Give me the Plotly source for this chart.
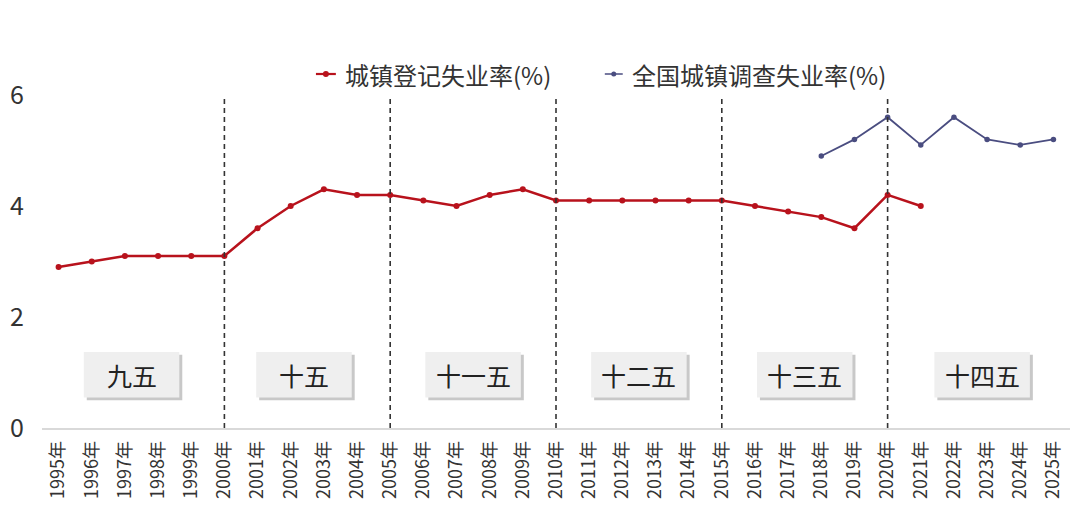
import plotly.graph_objects as go

years = [f"{y}年" for y in range(1995, 2026)]
registered = [2.9, 3.0, 3.1, 3.1, 3.1, 3.1, 3.6, 4.0, 4.3, 4.2, 4.2, 4.1, 4.0, 4.2, 4.3,
              4.1, 4.1, 4.1, 4.1, 4.1, 4.1, 4.0, 3.9, 3.8, 3.6, 4.2, 4.0]
survey_years = [f"{y}年" for y in range(2018, 2026)]
survey = [4.9, 5.2, 5.6, 5.1, 5.6, 5.2, 5.1, 5.2]
series_names = ["城镇登记失业率(%)", "全国城镇调查失业率(%)"]
plan_labels = ["九五", "十五", "十一五", "十二五", "十三五", "十四五"]
plan_starts = [1995, 2000, 2005, 2010, 2015, 2020]
y_ticks = [0, 2, 4, 6]

FONT = "Noto Sans CJK SC"
RED = "#b8121c"
BLUE = "#4a4d80"
W, H = 1080, 515
ML, MR, MT, MB = 38, 10, 95, 87
PW, PH = W - ML - MR, H - MT - MB


def px_to_paper_x(px):
    return (px - ML) / PW


def py_to_paper_y(py):
    return (H - MB - py) / PH


fig = go.Figure()
fig.add_trace(go.Scatter(
    x=years[:len(registered)], y=registered, mode="lines+markers",
    name=series_names[0],
    line=dict(color=RED, width=2.5), marker=dict(color=RED, size=6)))
fig.add_trace(go.Scatter(
    x=survey_years, y=survey, mode="lines+markers",
    name=series_names[1],
    line=dict(color=BLUE, width=1.8), marker=dict(color=BLUE, size=5.5)))

shapes = []
annotations = []
first = 1995
# dashed separators at plan boundaries
for s in plan_starts[1:]:
    xi = s - first
    shapes.append(dict(type="line", xref="x", yref="y", x0=xi, x1=xi, y0=0, y1=5.93,
                       line=dict(color="#333333", width=1.6, dash="5px,4px"), layer="above"))

# plan label boxes
offsets = [2.2, 2.4, 2.5, 2.5, 2.5, 2.85]
half_w = 1.44
for lab, s, off in zip(plan_labels, plan_starts, offsets):
    cx = s - first + off
    shapes.append(dict(type="rect", xref="x", yref="y",
                       x0=cx - half_w + 0.09, x1=cx + half_w + 0.09, y0=0.50, y1=1.32,
                       fillcolor="#9a9a9a", line=dict(width=0), layer="below", opacity=0.55))
    shapes.append(dict(type="rect", xref="x", yref="y",
                       x0=cx - half_w, x1=cx + half_w, y0=0.55, y1=1.37,
                       fillcolor="#efefef", line=dict(width=0), layer="below"))
    annotations.append(dict(x=cx, y=0.96, xref="x", yref="y", text=lab, showarrow=False,
                            font=dict(family=FONT, size=25, color="#222222")))

# custom legend (short symbol lines like the original)
leg_y = py_to_paper_y(74)
leg_items = [(313, 333, 340, RED, 2.2, 6), (603, 621, 628, BLUE, 1.5, 5)]
for (x0, x1, tx, col, lw, ms), name in zip(leg_items, series_names):
    shapes.append(dict(type="line", xref="paper", yref="paper",
                       x0=px_to_paper_x(x0), x1=px_to_paper_x(x1), y0=leg_y, y1=leg_y,
                       line=dict(color=col, width=lw)))
    cxp = px_to_paper_x((x0 + x1) / 2)
    shapes.append(dict(type="circle", xref="paper", yref="paper",
                       xsizemode="pixel", ysizemode="pixel", xanchor=cxp, yanchor=leg_y,
                       x0=-ms / 2, x1=ms / 2, y0=-ms / 2, y1=ms / 2,
                       fillcolor=col, line=dict(width=0)))
    annotations.append(dict(x=px_to_paper_x(tx), y=leg_y, xref="paper", yref="paper",
                            xanchor="left", yanchor="middle", text=name, showarrow=False,
                            font=dict(family=FONT, size=24, color="#333333")))

fig.update_layout(
    width=W, height=H,
    margin=dict(l=ML, r=MR, t=MT, b=MB),
    paper_bgcolor="white", plot_bgcolor="white",
    font=dict(family=FONT, color="#333333"),
    showlegend=False,
    shapes=shapes, annotations=annotations,
)
fig.update_xaxes(type="category", categoryorder="array", categoryarray=years,
                 range=[-0.5, len(years) - 0.5],
                 showgrid=False, showline=True, linecolor="#d9d9d9", linewidth=1.5,
                 tickangle=-90, tickfont=dict(family=FONT, size=18, color="#333333"),
                 ticks="", ticklabelstandoff=4, zeroline=False)
fig.update_yaxes(range=[0, 6], tickvals=y_ticks, showgrid=False, zeroline=False,
                 showline=False, tickfont=dict(family=FONT, size=25, color="#333333"),
                 ticks="", ticklabelstandoff=17)

fig.write_html("out.html")
